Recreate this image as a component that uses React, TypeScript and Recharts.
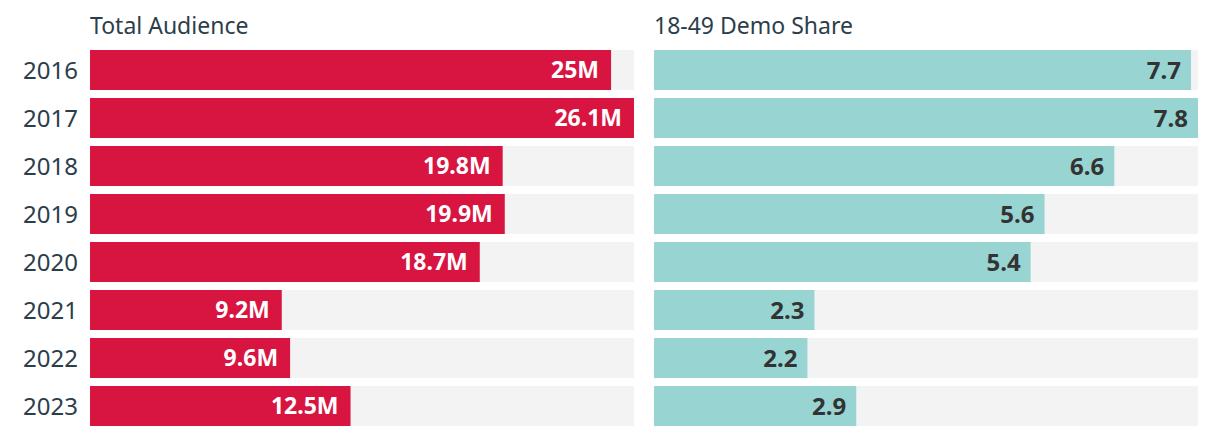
import React from "react";
import { Bar, BarChart, LabelList, XAxis, YAxis } from "recharts";

const years = ["2016", "2017", "2018", "2019", "2020", "2021", "2022", "2023"];
const totalAudience = [25, 26.1, 19.8, 19.9, 18.7, 9.2, 9.6, 12.5];
const demoShare = [7.7, 7.8, 6.6, 5.6, 5.4, 2.3, 2.2, 2.9];

const data = years.map((year, i) => ({
  year,
  audience: totalAudience[i],
  share: demoShare[i],
}));

const FONT = "'Noto Sans', 'Open Sans', sans-serif";
const TEXT = "#2c3e4a";

const titleStyle: React.CSSProperties = {
  position: "absolute",
  top: 9,
  fontFamily: FONT,
  fontSize: 23,
  color: TEXT,
  lineHeight: "32px",
};

export default function App() {
  return (
    <div style={{ position: "absolute", left: 0, top: 0, width: 1220, height: 436, background: "#fff" }}>
      <div style={{ ...titleStyle, left: 90 }}>Total Audience</div>
      <div style={{ ...titleStyle, left: 654 }}>18-49 Demo Share</div>

      <div style={{ position: "absolute", left: 0, top: 0 }}>
        <BarChart
          width={640}
          height={436}
          data={data}
          layout="vertical"
          margin={{ top: 46, right: 6, bottom: 6, left: 0 }}
        >
          <XAxis type="number" domain={[0, "dataMax"]} hide />
          <YAxis
            type="category"
            dataKey="year"
            width={90}
            axisLine={false}
            tickLine={false}
            tickMargin={6}
            tick={{ fill: TEXT, fontSize: 24, fontFamily: FONT }}
          />
          <Bar
            dataKey="audience"
            fill="#d81440"
            barSize={40}
            background={{ fill: "#f3f3f3" }}
            isAnimationActive={false}
          >
            <LabelList
              dataKey="audience"
              position="insideRight"
              offset={12}
              formatter={(v: any) => `${v}M`}
              style={{ fill: "#ffffff", fontSize: 23, fontWeight: 700, fontFamily: FONT }}
            />
          </Bar>
        </BarChart>
      </div>

      <div style={{ position: "absolute", left: 644, top: 0 }}>
        <BarChart
          width={560}
          height={436}
          data={data}
          layout="vertical"
          margin={{ top: 46, right: 6, bottom: 6, left: 10 }}
        >
          <XAxis type="number" domain={[0, "dataMax"]} hide />
          <YAxis type="category" dataKey="year" hide />
          <Bar
            dataKey="share"
            fill="#98d5d2"
            barSize={40}
            background={{ fill: "#f3f3f3" }}
            isAnimationActive={false}
          >
            <LabelList
              dataKey="share"
              position="insideRight"
              offset={10}
              style={{ fill: "#333333", fontSize: 24, fontWeight: 700, fontFamily: FONT }}
            />
          </Bar>
        </BarChart>
      </div>
    </div>
  );
}
